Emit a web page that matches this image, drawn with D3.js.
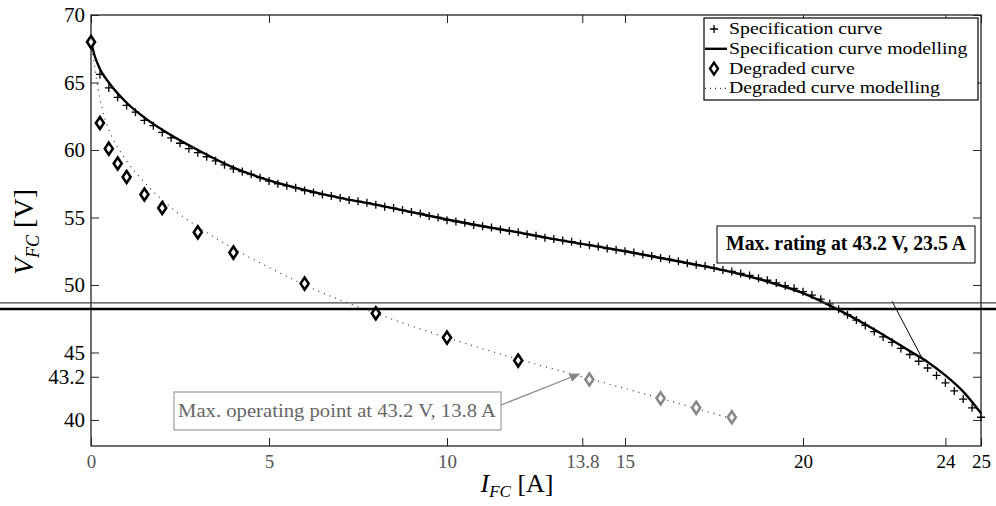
<!DOCTYPE html>
<html>
<head>
<meta charset="utf-8">
<script src="https://cdn.jsdelivr.net/npm/d3@7"></script>
<style>
body { margin: 0; background: #fff; }
text { font-family: "Liberation Serif", "DejaVu Serif", serif; }
</style>
</head>
<body>
<div id="graph"></div>
<script>
// Specification curve (measured points, every 0.25 A)
const specCurrent = [0, 0.25, 0.5, 0.75, 1, 1.25, 1.5, 1.75, 2, 2.25, 2.5, 2.75, 3, 3.25, 3.5, 3.75,
    4, 4.25, 4.5, 4.75, 5, 5.25, 5.5, 5.75, 6, 6.25, 6.5, 6.75, 7, 7.25, 7.5, 7.75,
    8, 8.25, 8.5, 8.75, 9, 9.25, 9.5, 9.75, 10, 10.25, 10.5, 10.75, 11, 11.25, 11.5, 11.75,
    12, 12.25, 12.5, 12.75, 13, 13.25, 13.5, 13.75, 14, 14.25, 14.5, 14.75, 15, 15.25, 15.5, 15.75,
    16, 16.25, 16.5, 16.75, 17, 17.25, 17.5, 17.75, 18, 18.25, 18.5, 18.75, 19, 19.25, 19.5, 19.75,
    20, 20.25, 20.5, 20.75, 21, 21.25, 21.5, 21.75, 22, 22.25, 22.5, 22.75, 23, 23.25, 23.5, 23.75,
    24, 24.25, 24.5, 24.75, 25];
const specVoltage = [68.0, 65.6, 64.6, 63.9, 63.3, 62.8, 62.2, 61.8, 61.3, 60.9, 60.5, 60.1, 59.8, 59.5, 59.2, 58.9,
    58.6, 58.4, 58.2, 57.95, 57.7, 57.5, 57.35, 57.2, 57.0, 56.85, 56.7, 56.6, 56.45, 56.3, 56.2, 56.1,
    55.95, 55.8, 55.7, 55.55, 55.4, 55.3, 55.1, 55.0, 54.8, 54.7, 54.6, 54.45, 54.35, 54.25, 54.1, 54.0,
    53.9, 53.75, 53.65, 53.5, 53.4, 53.3, 53.2, 53.05, 52.95, 52.85, 52.7, 52.6, 52.5, 52.4, 52.25, 52.15,
    52.0, 51.9, 51.75, 51.6, 51.5, 51.4, 51.25, 51.1, 51.0, 50.85, 50.7, 50.5, 50.35, 50.15, 49.95, 49.75,
    49.5, 49.25, 48.95, 48.6, 48.2, 47.8, 47.4, 47.0, 46.55, 46.15, 45.75, 45.3, 44.85, 44.35, 43.85, 43.3,
    42.75, 42.15, 41.55, 40.9, 40.2];

// Specification curve modelling
const specModelCurrent = [0, 0.1, 0.25, 0.5, 1, 1.5, 2, 3, 4, 5, 6, 7, 8, 9, 10, 11, 12, 13, 14, 15,
    16, 17, 18, 19, 20, 21, 22, 23, 23.5, 24, 24.5, 25];
const specModelVoltage = [68, 67.0, 66.0, 65.0, 63.5, 62.4, 61.5, 60.0, 58.7, 57.75, 57.05, 56.45, 55.95, 55.4, 54.85, 54.35, 53.9, 53.4, 52.95, 52.5,
    52.0, 51.5, 50.95, 50.25, 49.4, 48.15, 46.7, 45.1, 44.3, 43.3, 42.1, 40.5];

// Degraded curve (measured points)
const degCurrent = [0, 0.25, 0.5, 0.75, 1, 1.5, 2, 3, 4, 6, 8, 10, 12, 14, 16, 17, 18];
const degVoltage = [68, 62, 60.1, 59, 58, 56.7, 55.7, 53.9, 52.4, 50.1, 47.9, 46.1, 44.4, 43.0, 41.6, 40.9, 40.2];

// Degraded curve modelling
const degModelCurrent = [0, 0.05, 0.1, 0.2, 0.3, 0.5, 0.75, 1, 1.5, 2, 3, 4, 5, 6, 8, 10, 12, 13.8, 16, 18];
const degModelVoltage = [68, 67.0, 66.2, 64.5, 63.2, 61.5, 60.2, 59.2, 57.6, 56.3, 54.3, 52.7, 51.3, 50.0, 47.9, 46.1, 44.5, 43.2, 41.6, 40.1];

const xTicks = [0, 5, 10, 13.8, 15, 20, 24, 25];
const yTicks = [40, 43.2, 45, 50, 55, 60, 65, 70];
const legendLabels = ["Specification curve", "Specification curve modelling", "Degraded curve", "Degraded curve modelling"];

const margin = {top: 15, right: 15, bottom: 60, left: 91};
const width = 996 - margin.left - margin.right;
const height = 506 - margin.top - margin.bottom;

let root = d3.select("#graph")
    .append("svg")
    .attr("width", 996)
    .attr("height", 506);

let svg = root.append("g")
    .attr("transform", `translate(${margin.left},${margin.top})`);

let x = d3.scaleLinear().domain([0, 25]).range([0, width]);
let y = d3.scaleLinear().domain([38.07, 70]).range([height, 0]);

let zip = (a, b) => a.map((d, i) => ({i: d, v: b[i]}));
let spec = zip(specCurrent, specVoltage);
let specModel = zip(specModelCurrent, specModelVoltage);
let deg = zip(degCurrent, degVoltage);
let degModel = zip(degModelCurrent, degModelVoltage);

// axes, ticks pointing inwards
let xAxis = svg.append("g")
    .attr("transform", `translate(0,${height})`)
    .call(d3.axisBottom(x).tickValues(xTicks).tickSize(-8).tickPadding(9).tickFormat(d => String(d)));
let yAxis = svg.append("g")
    .call(d3.axisLeft(y).tickValues(yTicks).tickSize(-8).tickPadding(6).tickFormat(d => String(d)));
svg.append("g")
    .call(d3.axisTop(x).tickValues(xTicks).tickSize(-8).tickFormat(""));
svg.append("g")
    .attr("transform", `translate(${width},0)`)
    .call(d3.axisRight(y).tickValues(yTicks).tickSize(-8).tickFormat(""));

svg.selectAll(".domain").remove();
svg.selectAll(".tick line").attr("stroke", "#222");
xAxis.selectAll("text")
    .style("font-size", "19px")
    .attr("fill", d => d < 20 ? "#555" : "#000");
yAxis.selectAll("text")
    .style("font-size", "21px")
    .attr("fill", "#000");

svg.append("rect")
    .attr("width", width)
    .attr("height", height)
    .attr("fill", "none")
    .attr("stroke", "#222")
    .attr("stroke-width", 1.3);

// scan artefacts across the page
[48.67, 48.22].forEach((v, k) => {
    root.append("line")
        .attr("x1", 0).attr("x2", 996)
        .attr("y1", margin.top + y(v)).attr("y2", margin.top + y(v))
        .attr("stroke", k == 0 ? "#444" : "#000")
        .attr("stroke-width", k == 0 ? 1.2 : 2.6);
});

let line = d3.line()
    .x(d => x(d.i))
    .y(d => y(d.v))
    .curve(d3.curveMonotoneX);

svg.append("path")
    .datum(degModel)
    .attr("d", line)
    .attr("fill", "none")
    .attr("stroke", "#333")
    .attr("stroke-width", 1.2)
    .attr("stroke-dasharray", "1,5");

svg.append("path")
    .datum(specModel)
    .attr("d", line)
    .attr("fill", "none")
    .attr("stroke", "#000")
    .attr("stroke-width", 2.4);

const crossPath = "M-4,0H4M0,-4V4";
const diamondPath = "M0,-6L4,0L0,6L-4,0Z";

svg.selectAll(".cross")
    .data(spec)
    .enter()
    .append("path")
    .attr("class", "cross")
    .attr("transform", d => `translate(${x(d.i)},${y(d.v)})`)
    .attr("d", crossPath)
    .attr("stroke", "#000")
    .attr("stroke-width", 1.3);

svg.selectAll(".diamond")
    .data(deg)
    .enter()
    .append("path")
    .attr("class", "diamond")
    .attr("transform", d => `translate(${x(d.i)},${y(d.v)})`)
    .attr("d", diamondPath)
    .attr("fill", "#fff")
    .attr("stroke", d => d.i >= 14 ? "#888" : "#000")
    .attr("stroke-width", 2.6);

// legend
let legend = root.append("g").attr("transform", "translate(704,18)");
legend.append("rect")
    .attr("width", 274)
    .attr("height", 82)
    .attr("fill", "#fff")
    .attr("stroke", "#000")
    .attr("stroke-width", 1.2);
legendLabels.forEach((label, k) => {
    let by = 16 + k * 19.8;
    let row = legend.append("g").attr("transform", `translate(0,${by - 5})`);
    if (k == 0) row.append("path").attr("d", crossPath).attr("transform", "translate(10,0)")
        .attr("stroke", "#000").attr("stroke-width", 1.3);
    if (k == 1) row.append("line").attr("x1", 1).attr("x2", 23)
        .attr("stroke", "#000").attr("stroke-width", 2.4);
    if (k == 2) row.append("path").attr("d", diamondPath).attr("transform", "translate(10,0)")
        .attr("fill", "#fff").attr("stroke", "#000").attr("stroke-width", 2.4);
    if (k == 3) row.append("line").attr("x1", 1).attr("x2", 23)
        .attr("stroke", "#333").attr("stroke-width", 1.2).attr("stroke-dasharray", "1,4");
    let t = legend.append("text")
        .attr("x", 25)
        .attr("y", by)
        .style("font-size", "17.5px")
        .text(label);
    // stretch a little, the original font is wider
    t.attr("textLength", t.node().getComputedTextLength() * 1.13)
        .attr("lengthAdjust", "spacingAndGlyphs");
});

// annotation: max rating
svg.append("line")
    .attr("x1", x(22.5)).attr("y1", y(48.8))
    .attr("x2", x(23.4)).attr("y2", y(44.3))
    .attr("stroke", "#000")
    .attr("stroke-width", 1);
svg.append("rect")
    .attr("x", 626).attr("y", 211)
    .attr("width", 258).attr("height", 37)
    .attr("fill", "#fff")
    .attr("stroke", "#000")
    .attr("stroke-width", 1);
svg.append("text")
    .attr("x", 755).attr("y", 235)
    .attr("text-anchor", "middle")
    .attr("textLength", 240)
    .attr("lengthAdjust", "spacingAndGlyphs")
    .style("font-size", "22px")
    .style("font-weight", "bold")
    .text("Max. rating at 43.2 V, 23.5 A");

// annotation: max operating point
svg.append("defs").append("marker")
    .attr("id", "arrow")
    .attr("viewBox", "0 0 10 10")
    .attr("refX", 9).attr("refY", 5)
    .attr("markerWidth", 9).attr("markerHeight", 9)
    .attr("orient", "auto")
    .append("path")
    .attr("d", "M0,1L10,5L0,9Z")
    .attr("fill", "#888");
svg.append("line")
    .attr("x1", 410).attr("y1", 390)
    .attr("x2", x(13.8) - 3).attr("y2", y(43.4))
    .attr("stroke", "#888")
    .attr("stroke-width", 1.2)
    .attr("marker-end", "url(#arrow)");
svg.append("rect")
    .attr("x", 83).attr("y", 377)
    .attr("width", 327).attr("height", 38)
    .attr("fill", "#fff")
    .attr("stroke", "#888")
    .attr("stroke-width", 1);
svg.append("text")
    .attr("x", 246).attr("y", 402)
    .attr("text-anchor", "middle")
    .attr("textLength", 318)
    .attr("lengthAdjust", "spacingAndGlyphs")
    .attr("fill", "#666")
    .style("font-size", "19px")
    .text("Max. operating point at 43.2 V, 13.8 A");

// axis labels
let ylab = root.append("text")
    .attr("transform", "translate(33,232) rotate(-90)")
    .attr("text-anchor", "middle")
    .style("font-size", "28px");
ylab.append("tspan").style("font-style", "italic").text("V");
ylab.append("tspan").attr("dy", 6).style("font-size", "18px").style("font-style", "italic").text("FC");
ylab.append("tspan").attr("dy", -6).text(" [V]");

let xlab = root.append("text")
    .attr("x", 517).attr("y", 492)
    .attr("text-anchor", "middle")
    .style("font-size", "26px");
xlab.append("tspan").style("font-style", "italic").text("I");
xlab.append("tspan").attr("dy", 5).style("font-size", "17px").style("font-style", "italic").text("FC");
xlab.append("tspan").attr("dy", -5).text(" [A]");
</script>
</body>
</html>
